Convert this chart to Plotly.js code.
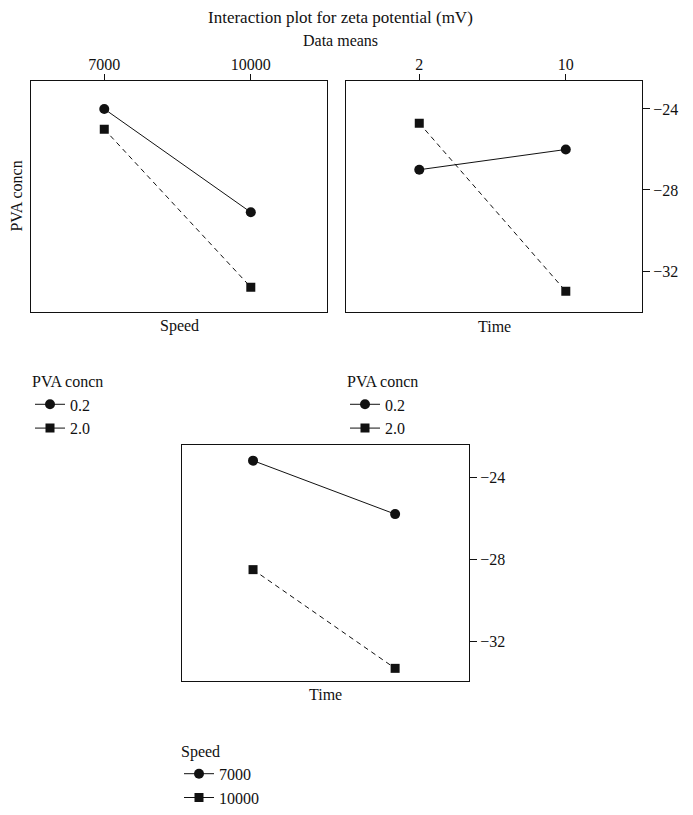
<!DOCTYPE html>
<html>
<head>
<meta charset="utf-8">
<script src="https://cdn.plot.ly/plotly-3.0.1.min.js"></script>
<style>html,body{margin:0;padding:0;background:#fff;}#chart{width:693px;height:815px;}</style>
</head>
<body>
<div id="chart"></div>
<script>
// ---- data (means of zeta potential, mV) ----
const speedLevels = ['7000', '10000'];
const timeLevels = ['2', '10'];
const pvaLevels = ['0.2', '2.0'];
const speedNames = ['7000', '10000'];

// Panel 1: PVA concn x Speed
const pva02BySpeed = [-24.0, -29.1];
const pva20BySpeed = [-25.0, -32.8];
// Panel 2: PVA concn x Time
const pva02ByTime = [-27.0, -26.0];
const pva20ByTime = [-24.7, -33.0];
// Panel 3: Speed x Time
const speed7000ByTime = [-23.2, -25.8];
const speed10000ByTime = [-28.5, -33.3];

const yTicks = [-24, -28, -32];

const FONT = 'Liberation Serif, DejaVu Serif, serif';
const INK = '#111';
const DASH = '5px,4px';
const FS = 16;

function series(x, y, xa, ya, symbol, dashed, size) {
  return {
    type: 'scatter', mode: 'lines+markers', x: x, y: y, xaxis: xa, yaxis: ya,
    line: {color: INK, width: 1, dash: dashed ? DASH : 'solid'},
    marker: {symbol: symbol, size: size, color: INK},
    showlegend: false, hoverinfo: 'x+y'
  };
}
function legendItem(name, symbol, size, legend) {
  return {
    type: 'scatter', mode: 'lines+markers', x: [null], y: [null], name: name,
    line: {color: INK, width: 1}, marker: {symbol: symbol, size: size, color: INK},
    legend: legend, showlegend: true
  };
}

const traces = [
  series(speedLevels, pva02BySpeed, 'x', 'y', 'circle', false, 10),
  series(speedLevels, pva20BySpeed, 'x', 'y', 'square', true, 9),
  series(timeLevels, pva02ByTime, 'x2', 'y2', 'circle', false, 10),
  series(timeLevels, pva20ByTime, 'x2', 'y2', 'square', true, 9),
  series(timeLevels, speed7000ByTime, 'x3', 'y3', 'circle', false, 10),
  series(timeLevels, speed10000ByTime, 'x3', 'y3', 'square', true, 9),
  legendItem(pvaLevels[0], 'circle', 10, 'legend'),
  legendItem(pvaLevels[1], 'square', 9, 'legend'),
  legendItem(pvaLevels[0], 'circle', 10, 'legend2'),
  legendItem(pvaLevels[1], 'square', 9, 'legend2'),
  legendItem(speedNames[0], 'circle', 10, 'legend3'),
  legendItem(speedNames[1], 'square', 9, 'legend3')
];

const W = 693, H = 815;
const px = v => v / W;
const py = v => 1 - v / H;

const tickFont = {family: FONT, size: FS, color: INK};
function xAxis(domain, anchor, showTicks) {
  return {
    domain: domain, anchor: anchor, type: 'category', range: [-0.5, 1.52],
    side: 'top', showline: true, mirror: true, linecolor: INK, linewidth: 1,
    ticks: showTicks ? 'outside' : '', ticklen: 6, tickcolor: INK, ticklabelstandoff: -3,
    showticklabels: showTicks, tickfont: tickFont, showgrid: false, zeroline: false,
    fixedrange: true
  };
}
function yAxis(domain, anchor, range, showTicks) {
  return {
    domain: domain, anchor: anchor, range: range, side: 'right',
    showline: true, mirror: true, linecolor: INK, linewidth: 1,
    tickvals: yTicks, ticks: showTicks ? 'outside' : '', ticklen: 7, tickcolor: INK,
    showticklabels: showTicks, tickfont: tickFont, showgrid: false, zeroline: false,
    fixedrange: true
  };
}

const topY = [py(317), py(82)];
const botY = [py(693), py(453)];
const titleFont = {family: FONT, size: FS, color: INK};
const legendCommon = {
  font: {family: FONT, size: FS, color: INK}, bgcolor: 'rgba(0,0,0,0)',
  xanchor: 'left', yanchor: 'top', itemwidth: 30, tracegroupgap: 0
};

function label(text, x, y, extra) {
  return Object.assign({text: text, x: px(x), y: py(y), xref: 'paper', yref: 'paper',
    xanchor: 'center', yanchor: 'middle', showarrow: false,
    font: {family: FONT, size: FS, color: INK}}, extra || {});
}

const layout = {
  width: W, height: H, margin: {l: 0, r: 0, t: 0, b: 0},
  paper_bgcolor: '#fff', plot_bgcolor: '#fff',
  font: {family: FONT, color: INK},
  xaxis: xAxis([px(31), px(327)], 'y', true),
  yaxis: yAxis(topY, 'x', [-34.0, -22.6], false),
  xaxis2: xAxis([px(346), px(642)], 'y2', true),
  yaxis2: yAxis(topY, 'x2', [-34.0, -22.6], true),
  xaxis3: xAxis([px(182), px(469)], 'y3', false),
  yaxis3: yAxis(botY, 'x3', [-33.92, -22.45], true),
  legend: Object.assign({}, legendCommon, {x: px(30), y: py(373), title: {text: 'PVA concn', font: titleFont}}),
  legend2: Object.assign({}, legendCommon, {x: px(345), y: py(373), title: {text: 'PVA concn', font: titleFont}}),
  legend3: Object.assign({}, legendCommon, {x: px(179), y: py(749), title: {text: 'Speed', font: titleFont}}),
  annotations: [
    label('Interaction plot for zeta potential (mV)', 340, 18, {font: {family: FONT, size: 17, color: INK}}),
    label('Data means', 340, 41),
    label('PVA concn', 17, 200, {textangle: -90}),
    label('Speed', 179, 332),
    label('Time', 494, 332),
    label('Time', 325, 707)
  ]
};

Plotly.newPlot('chart', traces, layout, {displayModeBar: false, staticPlot: true});
</script>
</body>
</html>
